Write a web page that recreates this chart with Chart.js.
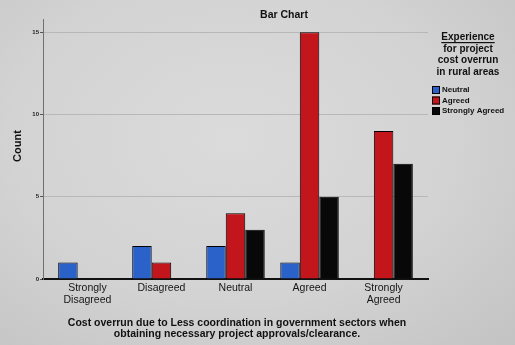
<!DOCTYPE html>
<html>
<head>
<meta charset="utf-8">
<script src="https://cdn.jsdelivr.net/npm/chart.js@4/dist/chart.umd.min.js"></script>
<style>
  html, body { margin: 0; padding: 0; width: 515px; height: 345px; overflow: hidden; }
  body { background: radial-gradient(ellipse at 45% 40%, #dbdbdb 0%, #d3d3d3 55%, #c3c3c3 100%); }
  #wrap { position: relative; width: 515px; height: 345px; }
</style>
</head>
<body>
<div id="wrap"><canvas id="c" width="515" height="345"></canvas></div>
<script>
// Response categories on the x axis
const categories = [["Strongly", "Disagreed"], "Disagreed", "Neutral", "Agreed", ["Strongly", "Agreed"]];
// Counts per experience group
const neutralCounts = [1, 2, 2, 1, 0];
const agreedCounts = [0, 1, 4, 15, 9];
const stronglyAgreedCounts = [0, 0, 3, 5, 7];
const seriesNames = ["Neutral", "Agreed", "Strongly Agreed"];
const yTicks = [0, 5, 10, 15];

const chartTitle = "Bar Chart";
const legendTitle = ["Experience", "for project", "cost overrun", "in rural areas"];
const xTitle = ["Cost overrun due to Less coordination in government sectors when",
                "obtaining necessary project approvals/clearance."];
const yTitle = "Count";

const FONT = '"Liberation Sans", Arial, sans-serif';
const colors = ["#2a62c9", "#c3151c", "#080808"];

// Titles and the legend block drawn on the canvas after the chart
const annotations = {
  id: "annotations",
  afterDraw(chart) {
    const ctx = chart.ctx;
    ctx.save();
    ctx.fillStyle = "#111";
    ctx.textAlign = "center";
    ctx.textBaseline = "middle";

    ctx.font = "bold 10.5px " + FONT;
    ctx.fillText(chartTitle, 284, 15);

    // y axis title
    ctx.save();
    ctx.translate(18, 146);
    ctx.rotate(-Math.PI / 2);
    ctx.font = "bold 11px " + FONT;
    ctx.fillText(yTitle, 0, 0);
    ctx.restore();

    // x axis title
    ctx.font = "bold 10.5px " + FONT;
    ctx.fillText(xTitle[0], 237, 323, 346);
    ctx.fillText(xTitle[1], 237, 334.5, 252);

    // legend title
    ctx.font = "bold 10px " + FONT;
    const ly = [37, 49, 60.5, 72];
    legendTitle.forEach((t, i) => ctx.fillText(t, 468, ly[i], 72));
    const w0 = ctx.measureText(legendTitle[0]).width;
    ctx.fillRect(468 - w0 / 2, ly[0] + 5, w0, 1.2);

    // legend items
    ctx.textAlign = "left";
    ctx.font = "bold 8px " + FONT;
    const iy = [90, 100.5, 111];
    chart.data.datasets.forEach((ds, i) => {
      ctx.fillStyle = ds.backgroundColor;
      ctx.fillRect(432, iy[i] - 4, 8, 8);
      ctx.strokeStyle = "#000";
      ctx.lineWidth = 1;
      ctx.strokeRect(432.5, iy[i] - 3.5, 7, 7);
      ctx.fillStyle = "#111";
      ctx.fillText(ds.label, 442, iy[i]);
    });
    ctx.restore();
  }
};

new Chart(document.getElementById("c"), {
  type: "bar",
  data: {
    labels: categories,
    datasets: [
      { label: seriesNames[0], data: neutralCounts, backgroundColor: colors[0] },
      { label: seriesNames[1], data: agreedCounts, backgroundColor: colors[1] },
      { label: seriesNames[2], data: stronglyAgreedCounts, backgroundColor: colors[2] }
    ]
  },
  options: {
    responsive: false,
    animation: false,
    devicePixelRatio: 1,
    layout: { padding: { top: 19, right: 87, left: 0, bottom: 0 } },
    datasets: {
      bar: {
        categoryPercentage: 0.79,
        barPercentage: 1,
        borderColor: "#000",
        borderWidth: 1
      }
    },
    plugins: {
      legend: { display: false },
      title: { display: false },
      tooltip: { enabled: false }
    },
    scales: {
      x: {
        offset: true,
        afterBuildTicks(scale) {
          // leave a little extra room at both ends of the category axis
          scale._startValue -= 0.1;
          scale._valueRange += 0.2;
        },
        afterFit(scale) { scale.height = 66; },
        grid: { display: false, drawTicks: false },
        border: { color: "#111", width: 2 },
        ticks: {
          color: "#151515",
          padding: 3,
          maxRotation: 0,
          autoSkip: false,
          font: { family: FONT, size: 10.5, lineHeight: 1.15 }
        }
      },
      y: {
        min: 0,
        max: 15.8,
        afterBuildTicks(scale) { scale.ticks = yTicks.map(v => ({ value: v })); },
        afterFit(scale) { scale.width = 43; },
        grid: {
          color: c => (c.tick && c.tick.value === 0) ? "rgba(0,0,0,0)" : "#b8b8b8",
          tickColor: "#555",
          tickLength: 3,
          lineWidth: 1
        },
        border: { color: "#707070", width: 1 },
        ticks: {
          color: "#222",
          padding: 1,
          font: { family: FONT, size: 6, weight: "bold" }
        }
      }
    }
  },
  plugins: [annotations]
});
</script>
</body>
</html>
